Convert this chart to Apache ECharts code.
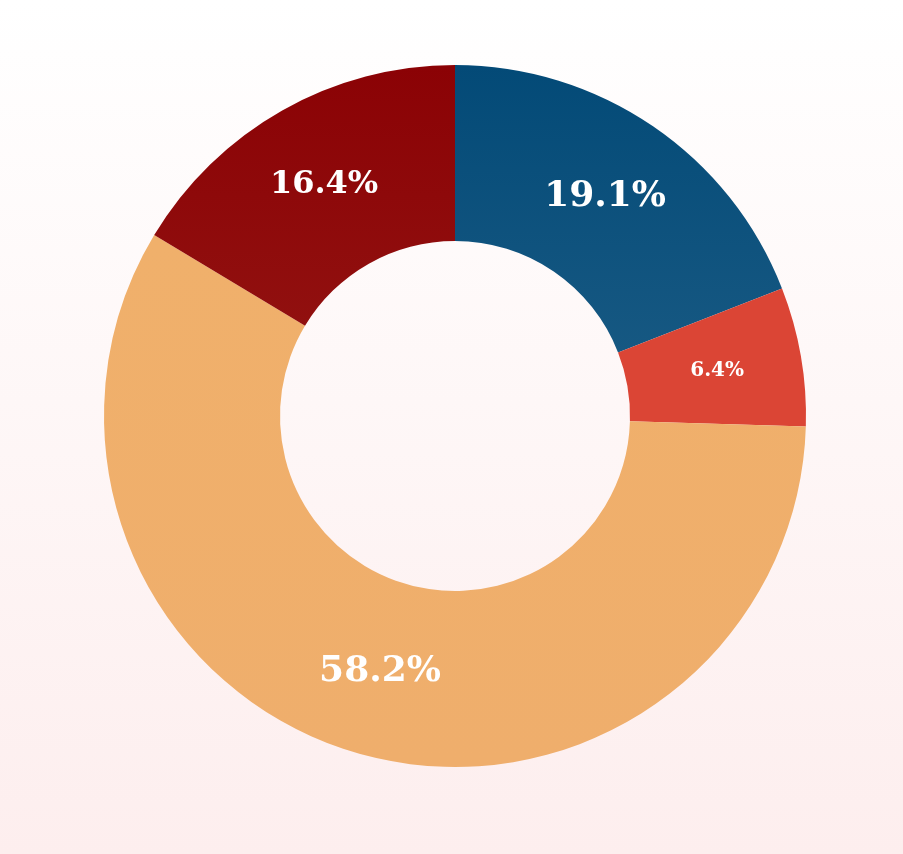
<!DOCTYPE html>
<html>
<head>
<meta charset="utf-8">
<script src="https://cdn.jsdelivr.net/npm/echarts@6/dist/echarts.min.js"></script>
<style>html,body{margin:0;padding:0;}#main{width:903px;height:854px;}</style>
</head>
<body>
<div id="main"></div>
<script>
var names = ['A', 'B', 'C', 'D'];
var values = [19.1, 6.4, 58.2, 16.4];
var colors = [['#034a77', '#165882'], ['#db4535', '#db4535'], ['#f0b06b', '#efae6c'], ['#8b0205', '#91100f']];
var labelSizes = [36, 20, 36, 32];

var myChart = echarts.init(document.getElementById('main'));
var option = {
  backgroundColor: new echarts.graphic.LinearGradient(0, 0, 0, 1, [
    { offset: 0, color: '#ffffff' },
    { offset: 1, color: '#fdeeee' }
  ]),
  series: [{
    type: 'pie',
    center: [455, 416],
    radius: [175, 351],
    startAngle: 90,
    clockwise: true,
    label: {
      position: 'inside',
      color: '#ffffff',
      fontFamily: 'DejaVu Serif',
      fontWeight: 'bold',
      formatter: function (p) { return p.value.toFixed(1) + '%'; }
    },
    labelLine: { show: false },
    data: values.map(function (v, i) {
      return {
        name: names[i],
        value: v,
        itemStyle: {
          color: new echarts.graphic.LinearGradient(0, 0, 0, 1, [
            { offset: 0, color: colors[i][0] },
            { offset: 1, color: colors[i][1] }
          ])
        },
        label: { fontSize: labelSizes[i] }
      };
    })
  }]
};
option && myChart.setOption(option);
</script>
</body>
</html>
